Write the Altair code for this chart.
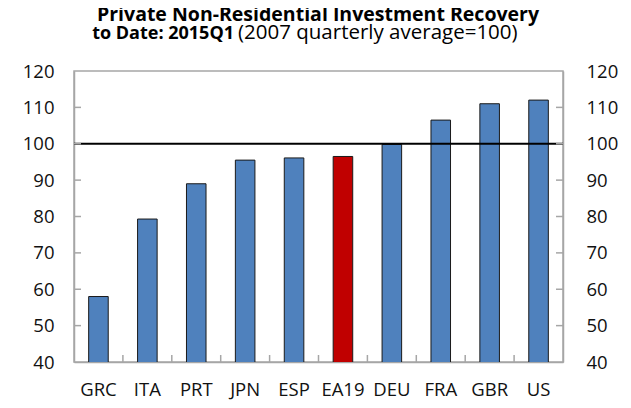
import altair as alt
import pandas as pd

countries = ["GRC", "ITA", "PRT", "JPN", "ESP", "EA19", "DEU", "FRA", "GBR", "US"]
values = [58.0, 79.3, 89.0, 95.5, 96.1, 96.5, 99.8, 106.5, 111.0, 112.0]
highlight = ["EA19"]
y_ticks = [40, 50, 60, 70, 80, 90, 100, 110, 120]
inner_ticks = [50, 60, 70, 80, 90, 100, 110]
reference = [100]
title_line1 = "Private Non-Residential Investment Recovery"
title_bold2 = "to Date: 2015Q1"
title_reg2 = "(2007 quarterly average=100)"

W, H = 489, 291
FONT = "Open Sans"
AX = "#A6A6A6"
LBL = 18.5

df = pd.DataFrame({
    "country": countries,
    "value": values,
    "color": ["#C00000" if c in highlight else "#4F81BD" for c in countries],
})

xscale = alt.Scale(domain=countries, paddingInner=0, paddingOuter=0)
yscale = alt.Scale(domain=[40, 120], nice=False, zero=False)

xaxis = alt.Axis(labelAngle=0, ticks=False, labelPadding=18, labelOverlap=False,
                 labelFontSize=LBL, labelFont=FONT, labelColor="#111",
                 domainColor=AX, domainWidth=1.5)

bars = alt.Chart(df).mark_bar(width={"band": 0.4}, stroke="#1a1a1a", strokeWidth=1, clip=True).encode(
    x=alt.X("country:N", scale=xscale, sort=countries, title=None, axis=xaxis),
    y=alt.Y("value:Q", scale=yscale, title=None,
            axis=alt.Axis(values=y_ticks, ticks=False, labelPadding=20, grid=False,
                          labelFontSize=LBL, labelFont=FONT, labelColor="#111",
                          domainColor=AX, domainWidth=1.5)),
    color=alt.Color("color:N", scale=None),
)

ref = alt.Chart(pd.DataFrame({"v": reference})).mark_rule(color="black", strokeWidth=2).encode(
    y=alt.Y("v:Q", scale=yscale, title=None,
            axis=alt.Axis(orient="right", values=y_ticks, ticks=False, labelPadding=23, grid=False,
                          labelFontSize=LBL, labelFont=FONT, labelColor="#111",
                          domainColor=AX, domainWidth=1.5)),
)

tdf = pd.DataFrame({"t": inner_ticks})
lt = alt.Chart(tdf).mark_rule(color=AX, strokeWidth=1.5).encode(
    y=alt.Y("t:Q", scale=yscale, axis=None), x=alt.value(0), x2=alt.value(7))
rt = alt.Chart(tdf).mark_rule(color=AX, strokeWidth=1.5).encode(
    y=alt.Y("t:Q", scale=yscale, axis=None), x=alt.value(W - 7), x2=alt.value(W))

xt = alt.Chart(pd.DataFrame({"country": countries[1:]})).mark_rule(color=AX, strokeWidth=1.5).encode(
    x=alt.X("country:N", scale=xscale, sort=countries, title=None, axis=xaxis, bandPosition=0),
    y=alt.value(H - 7), y2=alt.value(H))

t1 = alt.Chart(pd.DataFrame({"t": [title_line1]})).mark_text(
    font=FONT, fontSize=19.5, fontWeight="bold", align="center", baseline="alphabetic", color="black"
).encode(text="t:N", x=alt.value(244), y=alt.value(-50))
t2 = alt.Chart(pd.DataFrame({"t": [title_bold2]})).mark_text(
    font=FONT, fontSize=18, fontWeight="bold", align="right", baseline="alphabetic", color="black"
).encode(text="t:N", x=alt.value(160), y=alt.value(-32))
t3 = alt.Chart(pd.DataFrame({"t": [title_reg2]})).mark_text(
    font=FONT, fontSize=20.5, fontWeight="normal", align="left", baseline="alphabetic", color="black"
).encode(text="t:N", x=alt.value(164), y=alt.value(-32))

chart = alt.layer(bars, ref, lt, rt, xt, t1, t2, t3).resolve_scale(y="independent").properties(
    width=W, height=H,
    autosize=alt.AutoSizeParams(type="none"),
    padding={"left": 66, "top": 63, "right": 60, "bottom": 38},
).configure_view(stroke=AX, strokeWidth=1.5)

chart.save("out.html", embed_options={"renderer": "svg", "actions": False})
